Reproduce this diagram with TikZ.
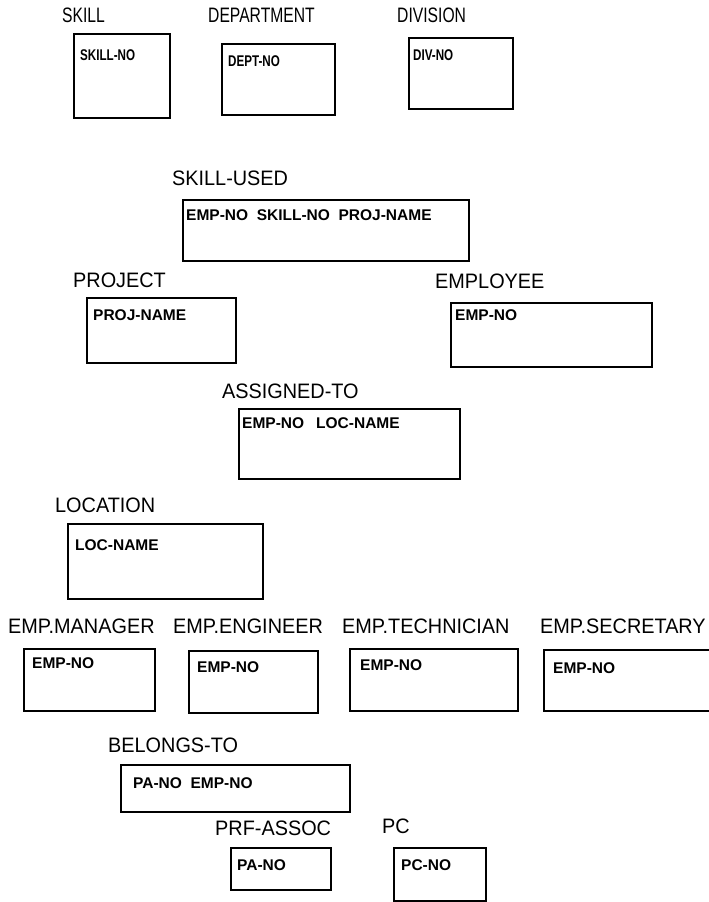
\documentclass[tikz,border=0pt]{standalone}
\usepackage{fontspec}
\setmainfont{Liberation Sans}
\newfontfamily\titlefont[FakeStretch=0.95]{Liberation Sans}
\newfontfamily\narrowfont[FakeStretch=0.75]{Liberation Sans}

\begin{document}
\begin{tikzpicture}[x=1pt,y=-1pt,
    title/.style={anchor=base west,inner sep=0pt,font=\titlefont\fontsize{20.9}{24}\selectfont},
    toptitle/.style={anchor=base west,inner sep=0pt,font=\narrowfont\fontsize{20.9}{24}\selectfont},
    keytext/.style={anchor=base west,inner sep=0pt,font=\fontsize{15.5}{18}\selectfont\bfseries},
    topkey/.style={anchor=base west,inner sep=0pt,font=\narrowfont\fontsize{15.5}{18}\selectfont\bfseries},
    box/.style={draw,line width=1.6pt,anchor=north west,inner sep=0pt}]
    \clip (0,0) rectangle (709,902);

    % Skill
    \node[toptitle] (skilltitle) at (62,22) {SKILL};
    \node[box,minimum width=96pt,minimum height=84pt] (skill) at (73,33) {};
    \node[topkey] (skillkey) at (80,60) {SKILL-NO};

    % Department
    \node[toptitle] (depttitle) at (208,22) {DEPARTMENT};
    \node[box,minimum width=113pt,minimum height=71pt] (dept) at (221,43) {};
    \node[topkey] (deptkey) at (228,66) {DEPT-NO};

    % Division
    \node[toptitle] (divtitle) at (397,22) {DIVISION};
    \node[box,minimum width=104pt,minimum height=71pt] (div) at (408,37) {};
    \node[topkey] (divkey) at (413,60) {DIV-NO};

    % Skill used
    \node[title] (usedtitle) at (172,185) {SKILL-USED};
    \node[box,minimum width=286pt,minimum height=61pt] (used) at (182,199) {};
    \node[keytext] (usedkey) at (186,220) {EMP-NO\ \ SKILL-NO\ \ PROJ-NAME};

    % Project
    \node[title] (projtitle) at (73,287) {PROJECT};
    \node[box,minimum width=149pt,minimum height=65pt] (proj) at (86,297) {};
    \node[keytext] (projkey) at (93,320) {PROJ-NAME};

    % Employee
    \node[title] (emptitle) at (435,288) {EMPLOYEE};
    \node[box,minimum width=201pt,minimum height=64pt] (emp) at (450,302) {};
    \node[keytext] (empkey) at (455,320) {EMP-NO};

    % Assigned to
    \node[title] (assigntitle) at (222,398) {ASSIGNED-TO};
    \node[box,minimum width=221pt,minimum height=70pt] (assign) at (238,408) {};
    \node[keytext] (assignkey) at (242,428) {EMP-NO\hspace{12pt}LOC-NAME};

    % Location
    \node[title] (loctitle) at (55,512) {LOCATION};
    \node[box,minimum width=195pt,minimum height=75pt] (loc) at (67,523) {};
    \node[keytext] (lockey) at (75,550) {LOC-NAME};

    % Employee subtypes
    \node[title] (mgrtitle) at (8,633) {EMP.MANAGER};
    \node[box,minimum width=131pt,minimum height=62pt] (mgr) at (23,648) {};
    \node[keytext] (mgrkey) at (32,668) {EMP-NO};

    \node[title] (engtitle) at (173,633) {EMP.ENGINEER};
    \node[box,minimum width=129pt,minimum height=62pt] (eng) at (188,650) {};
    \node[keytext] (engkey) at (197,672) {EMP-NO};

    \node[title] (techtitle) at (342,633) {EMP.TECHNICIAN};
    \node[box,minimum width=168pt,minimum height=62pt] (tech) at (349,648) {};
    \node[keytext] (techkey) at (360,670) {EMP-NO};

    \node[title] (sectitle) at (540,633) {EMP.SECRETARY};
    \node[box,minimum width=180pt,minimum height=61pt] (sec) at (543,649) {};
    \node[keytext] (seckey) at (553,673) {EMP-NO};

    % Belongs to
    \node[title] (belongtitle) at (108,752) {BELONGS-TO};
    \node[box,minimum width=229pt,minimum height=47pt] (belong) at (120,764) {};
    \node[keytext] (belongkey) at (133,788) {PA-NO\ \ EMP-NO};

    % Professional association
    \node[title] (prftitle) at (215,835) {PRF-ASSOC};
    \node[box,minimum width=100pt,minimum height=42pt] (prf) at (230,847) {};
    \node[keytext] (prfkey) at (237,870) {PA-NO};

    % PC
    \node[title] (pctitle) at (382,833) {PC};
    \node[box,minimum width=92pt,minimum height=53pt] (pc) at (393,847) {};
    \node[keytext] (pckey) at (401,870) {PC-NO};
  \end{tikzpicture}
\end{document}
